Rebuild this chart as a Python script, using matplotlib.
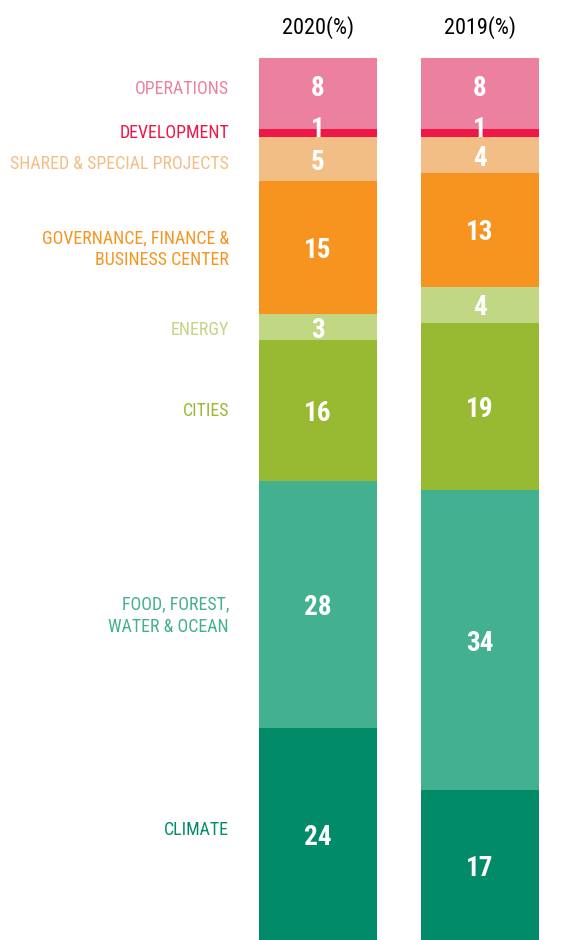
import numpy as np
import matplotlib
matplotlib.use("Agg")
import matplotlib.pyplot as plt
from matplotlib import font_manager

# segments, bottom to top
categories = ["CLIMATE", "FOOD, FOREST,\nWATER & OCEAN", "CITIES", "ENERGY",
              "GOVERNANCE, FINANCE &\nBUSINESS CENTER", "SHARED & SPECIAL PROJECTS",
              "DEVELOPMENT", "OPERATIONS"]
years = ["2020(%)", "2019(%)"]
values_2020 = [24, 28, 16, 3, 15, 5, 1, 8]
values_2019 = [17, 34, 19, 4, 13, 4, 1, 8]

colors = ["#028b68", "#43b08f", "#97ba32", "#c1d783",
          "#f6941f", "#f3be86", "#ee1848", "#ec819f"]

# narrowest font we can find
names = set(f.name for f in font_manager.fontManager.ttflist)
FONT = "DejaVu Sans"
for cand in ["Roboto Condensed", "Liberation Sans Narrow", "Roboto"]:
    if cand in names:
        FONT = cand
        break

W, H = 562, 940
fig = plt.figure(figsize=(W / 100, H / 100), dpi=100)
top_px = 58
ax = fig.add_axes([0, 0, 1, 1 - top_px / H])

# bar centres at px 318 and 480, width 118 px
step = 162.0
ax.set_xlim(-318 / step, 1 + (W - 480) / step)
ax.set_ylim(0, 100)
ax.axis("off")

width = 118 / step
for i, vals in enumerate([values_2020, values_2019]):
    bottoms = np.concatenate([[0], np.cumsum(vals)[:-1]])
    ax.bar(i, vals, bottom=bottoms, width=width, color=colors, linewidth=0)
    for k, (v, b) in enumerate(zip(vals, bottoms)):
        y = b + v / 2
        if k == 7:
            y += 0.9
        if k == 6:
            y += 0.7
        ax.text(i, y, str(v), ha="center", va="center_baseline", color="white",
                fontsize=19.5, fontweight="bold", family=FONT)
    ax.text(i, 100 + 33 / 8.82, years[i], ha="center", va="center_baseline",
            fontsize=16, color="black", family=FONT, clip_on=False)

# category labels next to the 2020 bar
bottoms = np.concatenate([[0], np.cumsum(values_2020)[:-1]])
nudge = [0.5, -1.2, 0, -0.3, -0.2, -0.5, 0, 0.5]
label_x = (229 - 318) / step
for k, cat in enumerate(categories):
    y = bottoms[k] + values_2020[k] / 2 + nudge[k]
    ax.text(label_x, y, cat, ha="right", va="center", color=colors[k],
            fontsize=12.9, family=FONT, linespacing=1.3)

fig.savefig("out.png", dpi=100)
